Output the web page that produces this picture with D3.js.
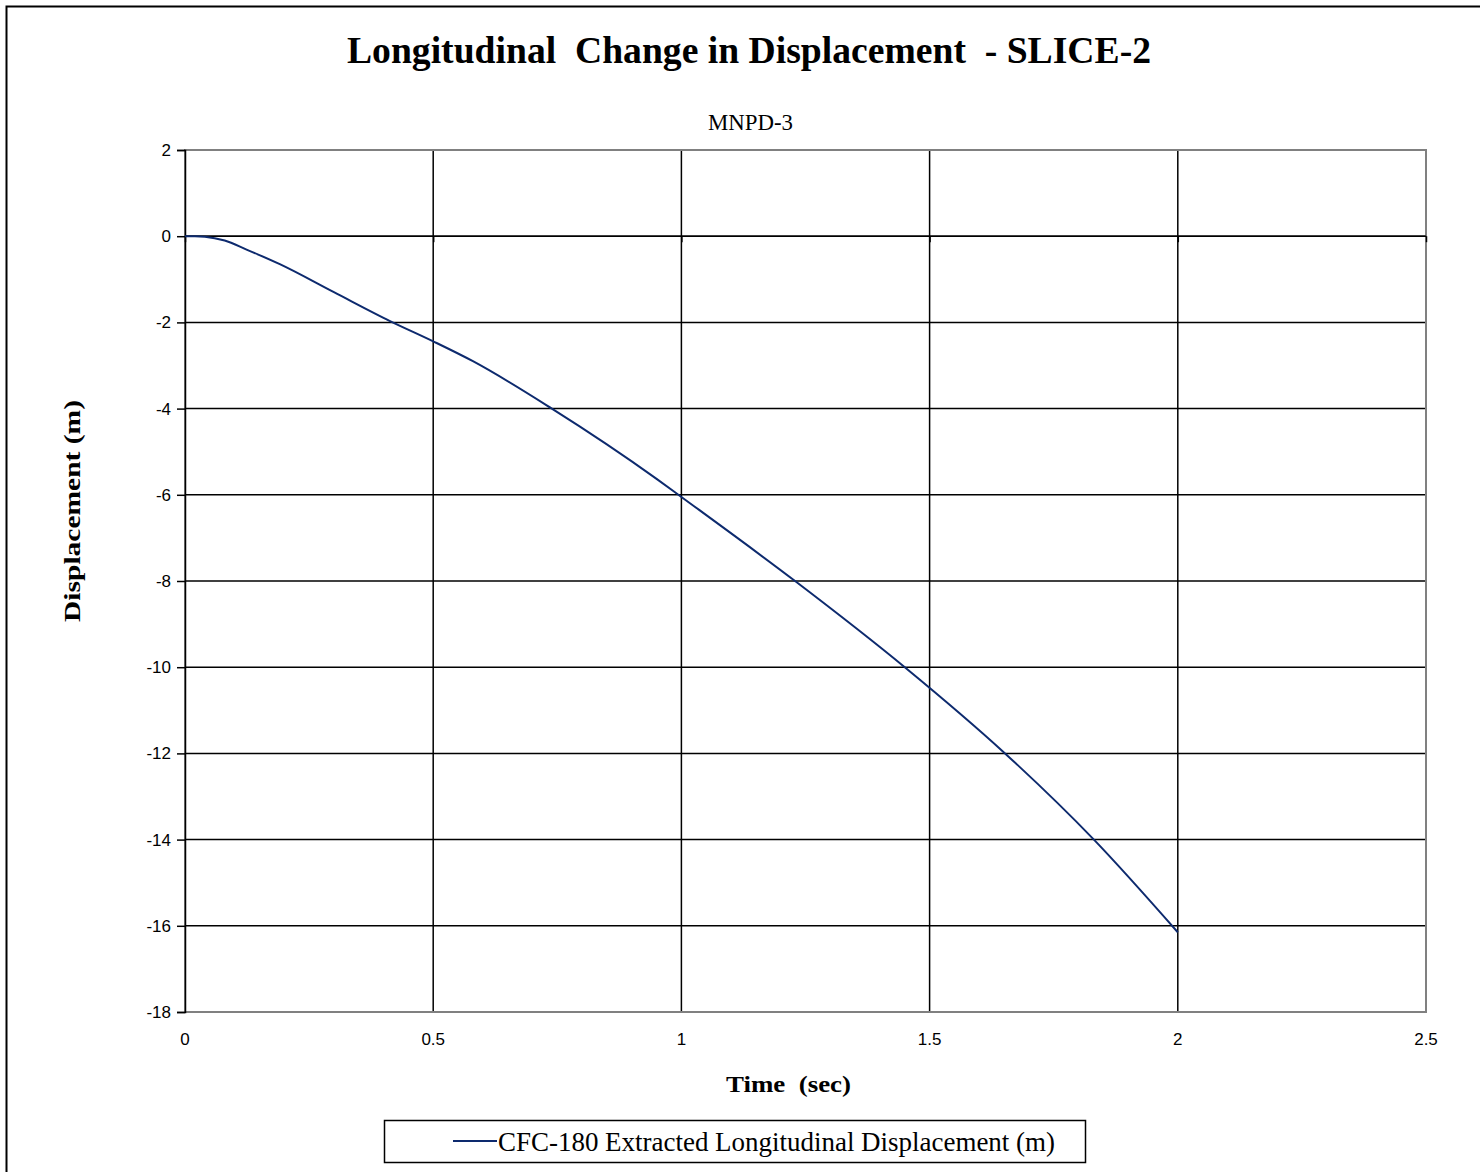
<!DOCTYPE html>
<html>
<head>
<meta charset="utf-8">
<script src="https://cdn.jsdelivr.net/npm/d3@7"></script>
<style>
  html, body { margin: 0; padding: 0; background: #fff; }
  svg { display: block; }
</style>
</head>
<body>
<svg id="chart" width="1480" height="1172"></svg>
<script>
// Series: time (sec) vs. extracted longitudinal displacement (m)
const timeSec = [0, 0.02, 0.04, 0.08, 0.124, 0.191, 0.3, 0.413, 0.5, 0.58, 0.739, 0.95, 1.0, 1.229, 1.45, 1.652, 1.831, 2.0];
const displacement = [0, 0, -0.01, -0.1, -0.31, -0.65, -1.3, -1.97, -2.44, -2.9, -4.0, -5.63, -6.05, -8.0, -10.0, -12.0, -14.0, -16.15];

const xTicks = [0, 0.5, 1, 1.5, 2, 2.5];
const xTickLabels = ["0", "0.5", "1", "1.5", "2", "2.5"];
const yTicks = [2, 0, -2, -4, -6, -8, -10, -12, -14, -16, -18];

const chartTitle = "Longitudinal  Change in Displacement  - SLICE-2";
const subTitle = "MNPD-3";
const xTitle = "Time  (sec)";
const yTitle = "Displacement (m)";
const seriesName = "CFC-180 Extracted Longitudinal Displacement (m)";

const serif = "'Liberation Serif', 'Times New Roman', serif";
const sans = "'Liberation Sans', Arial, sans-serif";
const lineColor = "#0d2a6e";

const svg = d3.select("#chart");

// outer chart frame
svg.append("rect")
  .attr("x", 6.5).attr("y", 6.5)
  .attr("width", 1480).attr("height", 1180)
  .attr("fill", "#fff").attr("stroke", "#000").attr("stroke-width", 2);

const plot = { left: 185, right: 1426, top: 150, bottom: 1012 };

const x = d3.scaleLinear().domain([0, 2.5]).range([plot.left, plot.right]);
const y = d3.scaleLinear().domain([-18, 2]).range([plot.bottom, plot.top]);

// horizontal gridlines
svg.append("g")
  .selectAll("line")
  .data(yTicks.filter(v => v !== 2 && v !== -18))
  .join("line")
  .attr("x1", plot.left).attr("x2", plot.right)
  .attr("y1", d => y(d)).attr("y2", d => y(d))
  .attr("stroke", "#000").attr("stroke-width", 1.5);

// vertical gridlines
svg.append("g")
  .selectAll("line")
  .data(xTicks.filter(v => v !== 0 && v !== 2.5))
  .join("line")
  .attr("x1", d => x(d)).attr("x2", d => x(d))
  .attr("y1", plot.top).attr("y2", plot.bottom)
  .attr("stroke", "#000").attr("stroke-width", 1.5);

// plot-area border (grey)
svg.append("rect")
  .attr("x", plot.left).attr("y", plot.top)
  .attr("width", plot.right - plot.left).attr("height", plot.bottom - plot.top)
  .attr("fill", "none").attr("stroke", "#808080").attr("stroke-width", 2);

// y axis on the left
const yAxis = d3.axisLeft(y)
  .tickValues(yTicks)
  .tickSize(8)
  .tickPadding(6)
  .tickFormat(d => String(d));
const yG = svg.append("g").attr("transform", `translate(${plot.left},0)`).call(yAxis);
yG.select(".domain").attr("stroke", "#000").attr("stroke-width", 1.5);
yG.selectAll(".tick line").attr("stroke", "#000").attr("stroke-width", 1.5);
yG.selectAll(".tick text")
  .attr("font-family", sans).attr("font-size", 17).attr("fill", "#000");

// x axis crossing at zero, labels along the bottom of the plot
const xAxis = d3.axisBottom(x)
  .tickValues(xTicks)
  .tickSize(6)
  .tickFormat("");
const xG = svg.append("g").attr("transform", `translate(0,${y(0)})`).call(xAxis);
xG.select(".domain").attr("stroke", "#000").attr("stroke-width", 1.5).attr("d", `M${plot.left},0H${plot.right}`);
xG.selectAll(".tick line").attr("stroke", "#000").attr("stroke-width", 1.5);

svg.append("g")
  .selectAll("text")
  .data(xTicks)
  .join("text")
  .attr("x", d => x(d))
  .attr("y", plot.bottom + 33)
  .attr("text-anchor", "middle")
  .attr("font-family", sans).attr("font-size", 17)
  .text((d, i) => xTickLabels[i]);

// data line
const line = d3.line()
  .x((d, i) => x(timeSec[i]))
  .y(d => y(d))
  .curve(d3.curveMonotoneX);

svg.append("path")
  .datum(displacement)
  .attr("d", line)
  .attr("fill", "none")
  .attr("stroke", lineColor)
  .attr("stroke-width", 2);

// titles
svg.append("text")
  .attr("x", 347).attr("y", 63)
  .attr("textLength", 804).attr("lengthAdjust", "spacingAndGlyphs")
  .attr("font-family", serif).attr("font-weight", "bold").attr("font-size", 38)
  .style("white-space", "pre")
  .text(chartTitle);

svg.append("text")
  .attr("x", 708).attr("y", 130)
  .attr("textLength", 85).attr("lengthAdjust", "spacingAndGlyphs")
  .attr("font-family", serif).attr("font-size", 24)
  .text(subTitle);

svg.append("text")
  .attr("x", 726).attr("y", 1092)
  .attr("textLength", 125).attr("lengthAdjust", "spacingAndGlyphs")
  .attr("font-family", serif).attr("font-weight", "bold").attr("font-size", 23)
  .style("white-space", "pre")
  .text(xTitle);

svg.append("text")
  .attr("transform", "translate(80,622) rotate(-90)")
  .attr("textLength", 222).attr("lengthAdjust", "spacingAndGlyphs")
  .attr("font-family", serif).attr("font-weight", "bold").attr("font-size", 23)
  .text(yTitle);

// legend
const legend = svg.append("g");
legend.append("rect")
  .attr("x", 384.5).attr("y", 1120.5)
  .attr("width", 701).attr("height", 42)
  .attr("fill", "#fff").attr("stroke", "#000").attr("stroke-width", 1.5);
legend.append("line")
  .attr("x1", 453).attr("x2", 497)
  .attr("y1", 1141).attr("y2", 1141)
  .attr("stroke", lineColor).attr("stroke-width", 2);
legend.append("text")
  .attr("x", 498).attr("y", 1151)
  .attr("textLength", 557).attr("lengthAdjust", "spacingAndGlyphs")
  .attr("font-family", serif).attr("font-size", 28)
  .text(seriesName);
</script>
</body>
</html>
